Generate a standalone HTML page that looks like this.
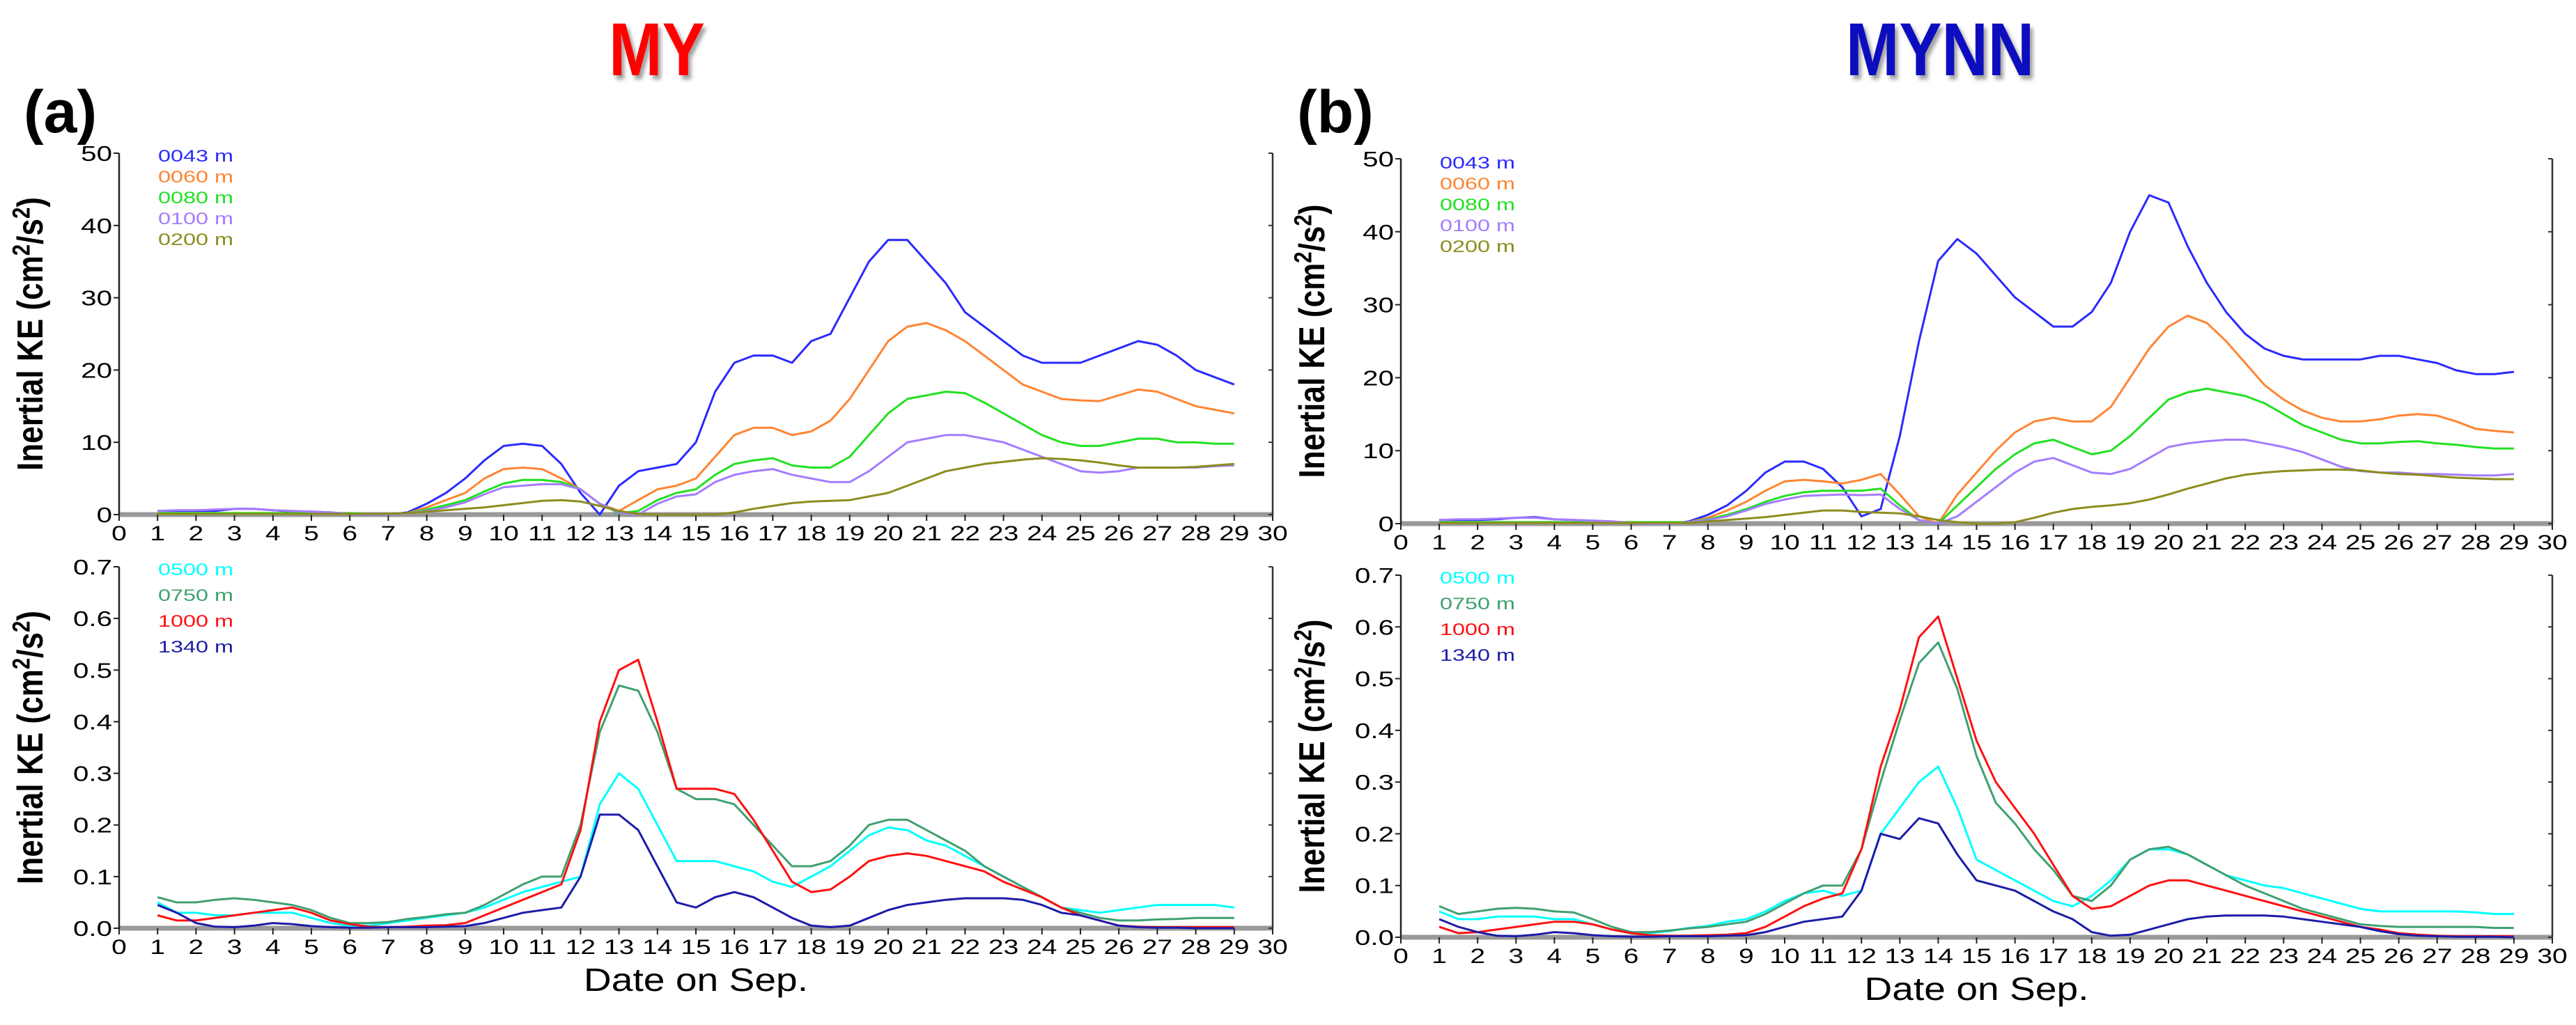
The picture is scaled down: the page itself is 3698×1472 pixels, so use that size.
<!DOCTYPE html>
<html><head><meta charset="utf-8"><style>
html,body{margin:0;padding:0;background:#fff;}
svg{display:block;font-family:"Liberation Sans",sans-serif;}
</style></head><body>
<svg id="fig" width="3698" height="1472" viewBox="0 0 3698 1472" xmlns="http://www.w3.org/2000/svg">
<defs><filter id="sh" x="-20%" y="-20%" width="140%" height="140%"><feDropShadow dx="5" dy="6" stdDeviation="3" flood-color="#888" flood-opacity="0.8"/></filter></defs>
<text x="943" y="108" text-anchor="middle" font-size="108" font-weight="bold" fill="#ff0000" filter="url(#sh)" transform="translate(943,0) scale(0.85,1) translate(-943,0)">MY</text>
<text x="2785" y="108" text-anchor="middle" font-size="108" font-weight="bold" fill="#1010c0" filter="url(#sh)" transform="translate(2785,0) scale(0.85,1) translate(-2785,0)">MYNN</text>
<text x="34" y="190" font-size="86" font-weight="bold" fill="#000">(a)</text>
<text x="1862" y="190" font-size="86" font-weight="bold" fill="#000">(b)</text>
</svg>
<script>
const days=[1,1.5,2,2.5,3,3.5,4,4.5,5,5.5,6,6.5,7,7.5,8,8.5,9,9.5,10,10.5,11,11.5,12,12.5,13,13.5,14,14.5,15,15.5,16,16.5,17,17.5,18,18.5,19,19.5,20,20.5,21,21.5,22,22.5,23,23.5,24,24.5,25,25.5,26,26.5,27,27.5,28,28.5,29];
const xTicks=[0,1,2,3,4,5,6,7,8,9,10,11,12,13,14,15,16,17,18,19,20,21,22,23,24,25,26,27,28,29,30];
const topTicks=["0","10","20","30","40","50"];
const botTicks=["0.0","0.1","0.2","0.3","0.4","0.5","0.6","0.7"];
const topLegend=["0043 m","0060 m","0080 m","0100 m","0200 m"];
const botLegend=["0500 m","0750 m","1000 m","1340 m"];
// MY upper
const myA43=[0.5,0.5,0.5,0.5,0.8,0.8,0.6,0.4,0.4,0.3,0.1,0,0,0.3,1.5,3,5,7.5,9.5,9.8,9.5,7,3,0,4,6,6.5,7,10,17,21,22,22,21,24,25,30,35,38,38,35,32,28,26,24,22,21,21,21,22,23,24,23.5,22,20,19,18];
const myA60=[0.2,0.2,0.2,0.2,0.2,0.2,0.2,0.2,0.2,0.2,0.2,0.1,0.1,0.2,1,2,3,5,6.3,6.5,6.3,5,3.5,1.5,0.5,2,3.5,4,5,8,11,12,12,11,11.5,13,16,20,24,26,26.5,25.5,24,22,20,18,17,16,15.8,15.7,16.5,17.3,17,16,15,14.5,14];
const myA80=[0.2,0.2,0.2,0.2,0.2,0.2,0.2,0.2,0.2,0.2,0.2,0.1,0.1,0.2,0.7,1.3,2,3.2,4.3,4.8,4.8,4.5,3.5,1.5,0.2,0.5,2,3,3.5,5.5,7,7.5,7.8,6.8,6.5,6.5,8,11,14,16,16.5,17,16.8,15.5,14,12.5,11,10,9.5,9.5,10,10.5,10.5,10,10,9.8,9.8];
const myA100=[0.5,0.6,0.6,0.7,0.8,0.8,0.6,0.5,0.4,0.3,0.1,0,0,0.2,0.5,1,1.7,2.8,3.8,4,4.2,4.2,3.5,1.5,0.3,0,1.5,2.5,2.8,4.5,5.5,6,6.3,5.5,5,4.5,4.5,6,8,10,10.5,11,11,10.5,10,9,8,7,6,5.8,6,6.5,6.5,6.5,6.5,6.7,6.8];
const myA200=[0.1,0.1,0.1,0.1,0.1,0.1,0.1,0.1,0.1,0.1,0.1,0.1,0.1,0.2,0.4,0.6,0.8,1,1.3,1.6,1.9,2,1.8,1.2,0.5,0.1,0,0,0,0,0.3,0.8,1.2,1.6,1.8,1.9,2,2.5,3,4,5,6,6.5,7,7.3,7.6,7.8,7.7,7.5,7.2,6.8,6.5,6.5,6.5,6.6,6.8,7];
// MY lower
const myB500=[0.05,0.03,0.03,0.025,0.025,0.03,0.03,0.03,0.02,0.01,0.005,0.005,0.01,0.015,0.02,0.025,0.03,0.04,0.055,0.07,0.08,0.09,0.1,0.24,0.3,0.27,0.2,0.13,0.13,0.13,0.12,0.11,0.09,0.08,0.1,0.12,0.15,0.18,0.195,0.19,0.17,0.16,0.14,0.12,0.1,0.08,0.06,0.04,0.035,0.03,0.035,0.04,0.045,0.045,0.045,0.045,0.04];
const myB750=[0.06,0.05,0.05,0.055,0.058,0.055,0.05,0.045,0.035,0.02,0.01,0.01,0.012,0.018,0.022,0.027,0.03,0.045,0.065,0.085,0.1,0.1,0.2,0.38,0.47,0.46,0.38,0.27,0.25,0.25,0.24,0.2,0.16,0.12,0.12,0.13,0.16,0.2,0.21,0.21,0.19,0.17,0.15,0.12,0.1,0.08,0.06,0.04,0.03,0.02,0.015,0.015,0.017,0.018,0.02,0.02,0.02];
const myB1000=[0.025,0.015,0.015,0.02,0.025,0.03,0.035,0.04,0.03,0.015,0.008,0.003,0.002,0.003,0.005,0.006,0.01,0.025,0.04,0.055,0.07,0.085,0.19,0.4,0.5,0.52,0.4,0.27,0.27,0.27,0.26,0.21,0.15,0.09,0.07,0.075,0.1,0.13,0.14,0.145,0.14,0.13,0.12,0.11,0.09,0.075,0.06,0.04,0.025,0.015,0.005,0.003,0.002,0.002,0.002,0.002,0.002];
const myB1340=[0.045,0.03,0.01,0.003,0.002,0.005,0.01,0.008,0.004,0.002,0.001,0.001,0.002,0.002,0.002,0.003,0.004,0.01,0.02,0.03,0.035,0.04,0.1,0.22,0.22,0.19,0.12,0.05,0.04,0.06,0.07,0.06,0.04,0.02,0.005,0.002,0.005,0.02,0.035,0.045,0.05,0.055,0.058,0.058,0.058,0.055,0.045,0.03,0.025,0.015,0.005,0.002,0.001,0.001,0,0,0];
// MYNN upper
const mynnA43=[0.5,0.5,0.5,0.6,0.8,0.9,0.6,0.5,0.4,0.3,0.1,0,0,0.3,1.2,2.5,4.5,7,8.5,8.5,7.5,5,1,2,12,25,36,39,37,34,31,29,27,27,29,33,40,45,44,38,33,29,26,24,23,22.5,22.5,22.5,22.5,23,23,22.5,22,21,20.5,20.5,20.8];
const mynnA60=[0.2,0.2,0.2,0.2,0.2,0.2,0.2,0.2,0.2,0.2,0.2,0.2,0.2,0.2,0.8,1.8,3,4.5,5.8,6,5.8,5.5,6,6.8,4,1,0,4,7,10,12.5,14,14.5,14,14,16,20,24,27,28.5,27.5,25,22,19,17,15.5,14.5,14,14,14.3,14.8,15,14.8,14,13,12.7,12.5];
const mynnA80=[0.2,0.2,0.2,0.2,0.2,0.2,0.2,0.2,0.2,0.2,0.2,0.2,0.2,0.2,0.6,1.2,2,3,3.8,4.3,4.5,4.5,4.5,4.8,2.5,0.5,0,2.5,5,7.5,9.5,11,11.5,10.5,9.5,10,12,14.5,17,18,18.5,18,17.5,16.5,15,13.5,12.5,11.5,11,11,11.2,11.3,11,10.8,10.5,10.3,10.3];
const mynnA100=[0.5,0.6,0.6,0.7,0.8,0.8,0.6,0.5,0.4,0.3,0.1,0,0,0.2,0.5,1,1.8,2.7,3.3,3.8,3.9,4,3.9,4,2,0.5,0,1,3,5,7,8.5,9,8,7,6.8,7.5,9,10.5,11,11.3,11.5,11.5,11,10.5,9.8,8.8,7.8,7.2,7,7,6.8,6.8,6.7,6.6,6.6,6.8];
const mynnA200=[0.1,0.1,0.1,0.1,0.1,0.1,0.1,0.1,0.1,0.1,0.1,0.1,0.1,0.1,0.3,0.5,0.7,0.9,1.2,1.5,1.8,1.8,1.6,1.5,1.4,1,0.5,0.2,0,0,0.2,0.8,1.5,2,2.3,2.5,2.8,3.3,4,4.8,5.5,6.2,6.7,7,7.2,7.3,7.4,7.4,7.3,7,6.8,6.7,6.5,6.3,6.2,6.1,6.1];
// MYNN lower
const mynnB500=[0.05,0.035,0.035,0.04,0.04,0.04,0.035,0.035,0.025,0.015,0.008,0.008,0.012,0.018,0.022,0.03,0.035,0.05,0.07,0.085,0.09,0.08,0.09,0.2,0.25,0.3,0.33,0.25,0.15,0.13,0.11,0.09,0.07,0.06,0.08,0.11,0.15,0.17,0.17,0.16,0.14,0.12,0.11,0.1,0.095,0.085,0.075,0.065,0.055,0.05,0.05,0.05,0.05,0.05,0.048,0.045,0.045];
const mynnB750=[0.06,0.045,0.05,0.055,0.057,0.055,0.05,0.048,0.035,0.02,0.01,0.01,0.013,0.017,0.02,0.025,0.03,0.045,0.065,0.085,0.1,0.1,0.17,0.3,0.42,0.53,0.57,0.48,0.35,0.26,0.22,0.17,0.13,0.08,0.07,0.1,0.15,0.17,0.175,0.16,0.14,0.12,0.1,0.085,0.07,0.055,0.045,0.035,0.025,0.022,0.02,0.02,0.02,0.02,0.02,0.018,0.018];
const mynnB1000=[0.02,0.008,0.01,0.015,0.02,0.025,0.03,0.03,0.025,0.015,0.008,0.004,0.003,0.003,0.004,0.005,0.008,0.02,0.04,0.06,0.075,0.085,0.17,0.33,0.44,0.58,0.62,0.5,0.38,0.3,0.25,0.2,0.14,0.08,0.055,0.06,0.08,0.1,0.11,0.11,0.1,0.09,0.08,0.07,0.06,0.05,0.04,0.03,0.02,0.015,0.008,0.005,0.003,0.002,0.002,0.002,0.002];
const mynnB1340=[0.035,0.02,0.01,0.003,0.002,0.005,0.01,0.008,0.004,0.002,0.001,0.001,0.002,0.002,0.002,0.003,0.004,0.01,0.02,0.03,0.035,0.04,0.09,0.2,0.19,0.23,0.22,0.16,0.11,0.1,0.09,0.07,0.05,0.035,0.01,0.003,0.005,0.015,0.025,0.035,0.04,0.042,0.042,0.042,0.04,0.035,0.03,0.025,0.02,0.012,0.006,0.003,0.002,0.001,0.001,0.001,0];

const topColors=["#2a2aff","#ff8533","#22e022","#a47cff","#8c8c1e"];
const botColors=["#00ffff","#3fa070","#ff1010","#1c1ca8"];
const NS="http://www.w3.org/2000/svg";
const svg=document.getElementById('fig');
function el(tag,attrs,parent){const e=document.createElementNS(NS,tag);for(const k in attrs)e.setAttribute(k,attrs[k]);(parent||svg).appendChild(e);return e;}

function panel(p){
  const g=el('g',{});
  
  
  const xs=d=>p.x0+(p.x1-p.x0)*d/30;
  const ys=v=>p.yb+(p.yt-p.yb)*v/p.ymax;
  const ax=el('line',{x1:p.x0,x2:p.x1,y1:p.yb,y2:p.yb,stroke:'#999',"stroke-width":7},g);
  
  
  const ls=el('line',{x1:p.x0,x2:p.x0,y1:p.yt,y2:p.yb,stroke:'#222',"stroke-width":2.5},g);
  
  
  const rs=el('line',{x1:p.x1,x2:p.x1,y1:p.yt,y2:p.yb,stroke:'#333',"stroke-width":2.5},g);
  
  
  xTicks.forEach(d=>{
    el('line',{x1:xs(d),x2:xs(d),y1:p.yb,y2:p.yb+9,stroke:'#222',"stroke-width":2},g);
    const t=el('text',{transform:`translate(${xs(d)},${p.yb+37}) scale(1.3,1)`,"text-anchor":"middle","font-size":30,fill:'#000'},g);
    t.textContent=d;
    
    
  });
  p.ticks.forEach((lab,i)=>{
    const v=parseFloat(lab);
    el('line',{x1:p.x0-8,x2:p.x0,y1:ys(v),y2:ys(v),stroke:'#222',"stroke-width":2},g);
    el('line',{x1:p.x1-6,x2:p.x1,y1:ys(v),y2:ys(v),stroke:'#333',"stroke-width":2},g);
    const t=el('text',{transform:`translate(${p.x0-10},${ys(v)+11}) scale(1.3,1)`,"text-anchor":"end","font-size":31,fill:'#000'},g);
    t.textContent=lab;
    
    
  });
  p.series.forEach((s,i)=>{
    const pts=days.map((d,j)=>xs(d).toFixed(1)+','+ys(s[j]).toFixed(1)).join(' ');
    const pl=el('polyline',{points:pts,fill:'none',stroke:p.colors[i],"stroke-width":3,"stroke-linejoin":"round"},g);
    
    
    const t=el('text',{transform:`translate(${p.lx},${p.ly+i*p.ld}) scale(1.35,1)`,"font-size":24,fill:p.colors[i]},g);
    t.textContent=p.legend[i];
    
    
  });
  const cy=(p.yt+p.yb)/2;
  const yl=el('text',{transform:`translate(${p.x0-110},${cy}) rotate(-90) scale(1,1.45)`,"text-anchor":"middle","font-size":36,"font-weight":"bold",fill:'#000',textLength:393,lengthAdjust:'spacingAndGlyphs'},g);
  yl.innerHTML='Inertial KE (cm<tspan baseline-shift="super" font-size="24">2</tspan>/s<tspan baseline-shift="super" font-size="24">2</tspan>)';
  
  
  if(p.xlabel){
    const xl=el('text',{transform:`translate(${(p.x0+p.x1)/2},${p.yb+90}) scale(1.2,1)`,"text-anchor":"middle","font-size":46,fill:'#000'},g);
    xl.textContent='Date on Sep.';
    
    
  }
}
panel({name:'panel-a-upper',x0:171,x1:1827,yt:220,yb:739,ymax:50,ticks:topTicks,series:[myA43,myA60,myA80,myA100,myA200],colors:topColors,legend:topLegend,lx:227,ly:232,ld:30,xlabel:false});
panel({name:'panel-a-lower',x0:171,x1:1827,yt:814,yb:1333,ymax:0.7,ticks:botTicks,series:[myB500,myB750,myB1000,myB1340],colors:botColors,legend:botLegend,lx:227,ly:826,ld:37,xlabel:true});
panel({name:'panel-b-upper',x0:2011,x1:3664,yt:228,yb:752,ymax:50,ticks:topTicks,series:[mynnA43,mynnA60,mynnA80,mynnA100,mynnA200],colors:topColors,legend:topLegend,lx:2067,ly:242,ld:30,xlabel:false});
panel({name:'panel-b-lower',x0:2011,x1:3664,yt:826,yb:1346,ymax:0.7,ticks:botTicks,series:[mynnB500,mynnB750,mynnB1000,mynnB1340],colors:botColors,legend:botLegend,lx:2067,ly:838,ld:37,xlabel:true});
</script>
</body></html>
